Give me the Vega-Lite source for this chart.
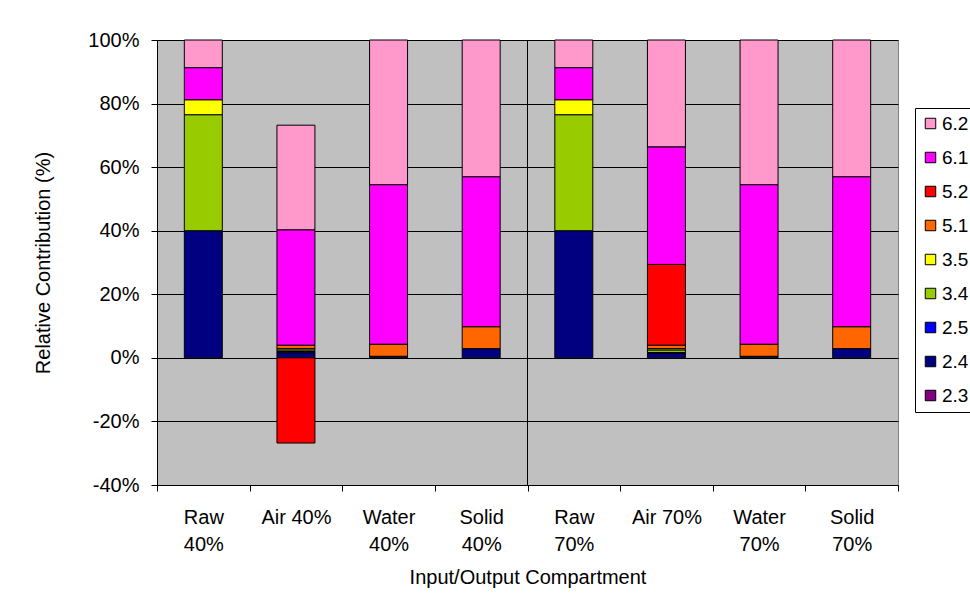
{
  "$schema": "https://vega.github.io/schema/vega-lite/v6.json",
  "width": 741,
  "height": 445,
  "autosize": {"type": "none"},
  "padding": {"left": 157, "top": 40, "right": 72, "bottom": 126},
  "background": "white",
  "config": {
    "font": "Liberation Sans",
    "view": {"fill": "#C0C0C0", "stroke": "#808080", "strokeWidth": 1},
    "axis": {
      "labelFont": "Liberation Sans",
      "titleFont": "Liberation Sans",
      "labelFontSize": 20,
      "titleFontSize": 20,
      "titleFontWeight": "normal",
      "labelColor": "#000000",
      "titleColor": "#000000",
      "domainColor": "#000000",
      "tickColor": "#000000",
      "gridColor": "#000000",
      "gridOpacity": 1,
      "domainWidth": 1,
      "tickWidth": 1,
      "gridWidth": 1
    },
    "legend": {
      "labelFont": "Liberation Sans",
      "labelFontSize": 19,
      "labelColor": "#000000"
    }
  },
  "layer": [
    {
      "data": {
        "values": [
          {"compartment": "Raw 40%", "s": "2.4", "v": 40.0},
          {"compartment": "Raw 40%", "s": "3.4", "v": 36.5},
          {"compartment": "Raw 40%", "s": "3.5", "v": 4.7},
          {"compartment": "Raw 40%", "s": "6.1", "v": 10.1},
          {"compartment": "Raw 40%", "s": "6.2", "v": 8.7},
          {"compartment": "Air 40%", "s": "2.4", "v": 1.6},
          {"compartment": "Air 40%", "s": "2.5", "v": 0.4},
          {"compartment": "Air 40%", "s": "3.4", "v": 0.5},
          {"compartment": "Air 40%", "s": "3.5", "v": 0.4},
          {"compartment": "Air 40%", "s": "5.1", "v": 1.1},
          {"compartment": "Air 40%", "s": "5.2", "v": -26.8},
          {"compartment": "Air 40%", "s": "6.1", "v": 36.3},
          {"compartment": "Air 40%", "s": "6.2", "v": 32.9},
          {"compartment": "Water 40%", "s": "2.4", "v": 0.5},
          {"compartment": "Water 40%", "s": "5.1", "v": 3.8},
          {"compartment": "Water 40%", "s": "6.1", "v": 50.2},
          {"compartment": "Water 40%", "s": "6.2", "v": 45.5},
          {"compartment": "Solid 40%", "s": "2.4", "v": 2.9},
          {"compartment": "Solid 40%", "s": "5.1", "v": 6.9},
          {"compartment": "Solid 40%", "s": "6.1", "v": 47.2},
          {"compartment": "Solid 40%", "s": "6.2", "v": 43.0},
          {"compartment": "Raw 70%", "s": "2.4", "v": 40.0},
          {"compartment": "Raw 70%", "s": "3.4", "v": 36.5},
          {"compartment": "Raw 70%", "s": "3.5", "v": 4.7},
          {"compartment": "Raw 70%", "s": "6.1", "v": 10.1},
          {"compartment": "Raw 70%", "s": "6.2", "v": 8.7},
          {"compartment": "Air 70%", "s": "2.4", "v": 1.5},
          {"compartment": "Air 70%", "s": "2.5", "v": 0.2},
          {"compartment": "Air 70%", "s": "3.4", "v": 0.8},
          {"compartment": "Air 70%", "s": "3.5", "v": 0.4},
          {"compartment": "Air 70%", "s": "5.1", "v": 1.1},
          {"compartment": "Air 70%", "s": "5.2", "v": 25.4},
          {"compartment": "Air 70%", "s": "6.1", "v": 37.0},
          {"compartment": "Air 70%", "s": "6.2", "v": 33.6},
          {"compartment": "Water 70%", "s": "2.4", "v": 0.5},
          {"compartment": "Water 70%", "s": "5.1", "v": 3.8},
          {"compartment": "Water 70%", "s": "6.1", "v": 50.2},
          {"compartment": "Water 70%", "s": "6.2", "v": 45.5},
          {"compartment": "Solid 70%", "s": "2.4", "v": 2.9},
          {"compartment": "Solid 70%", "s": "5.1", "v": 6.9},
          {"compartment": "Solid 70%", "s": "6.1", "v": 47.2},
          {"compartment": "Solid 70%", "s": "6.2", "v": 43.0}
        ]
      },
      "mark": {"type": "bar", "width": {"band": 0.41}, "stroke": "#000000", "strokeWidth": 1},
      "encoding": {
        "x": {
          "field": "compartment",
          "type": "nominal",
          "sort": null,
          "scale": {
            "domain": ["Raw 40%", "Air 40%", "Water 40%", "Solid 40%", "Raw 70%", "Air 70%", "Water 70%", "Solid 70%"],
            "paddingInner": 0,
            "paddingOuter": 0
          },
          "axis": {
            "title": "Input/Output Compartment",
            "labelAngle": 0,
            "labelExpr": "datum.label == 'Air 40%' || datum.label == 'Air 70%' ? datum.label : split(datum.label, ' ')",
            "labelLineHeight": 27,
            "labelPadding": 16,
            "tickBand": "extent",
            "tickSize": 6,
            "grid": false,
            "titlePadding": 13
          }
        },
        "y": {
          "field": "v",
          "type": "quantitative",
          "stack": "zero",
          "scale": {"domain": [-40, 100], "nice": false},
          "axis": {
            "title": "Relative Contribution (%)",
            "values": [-40, -20, 0, 20, 40, 60, 80, 100],
            "labelExpr": "datum.value + '%'",
            "tickSize": 6,
            "labelPadding": 12,
            "titlePadding": 34,
            "grid": true
          }
        },
        "color": {
          "field": "s",
          "type": "nominal",
          "scale": {
            "domain": ["6.2", "6.1", "5.2", "5.1", "3.5", "3.4", "2.5", "2.4", "2.3"],
            "range": ["#FF99CC", "#FF00FF", "#FF0000", "#FF6600", "#FFFF00", "#99CC00", "#0000FF", "#000080", "#800080"]
          },
          "legend": {
            "title": null,
            "orient": "none",
            "legendX": 758,
            "legendY": 68,
            "padding": 6,
            "fillColor": "#FFFFFF",
            "strokeColor": "#000000",
            "symbolType": "square",
            "symbolSize": 110,
            "symbolStrokeColor": "#000000",
            "symbolStrokeWidth": 1,
            "symbolOpacity": 1,
            "rowPadding": 14,
            "labelOffset": 2
          }
        },
        "order": {"field": "s", "type": "ordinal", "sort": "ascending"}
      }
    },
    {
      "data": {"values": [{"boundary": "Raw 70%"}]},
      "mark": {"type": "rule", "color": "#000000", "strokeWidth": 1},
      "encoding": {
        "x": {"field": "boundary", "type": "nominal", "bandPosition": 0}
      }
    }
  ]
}
